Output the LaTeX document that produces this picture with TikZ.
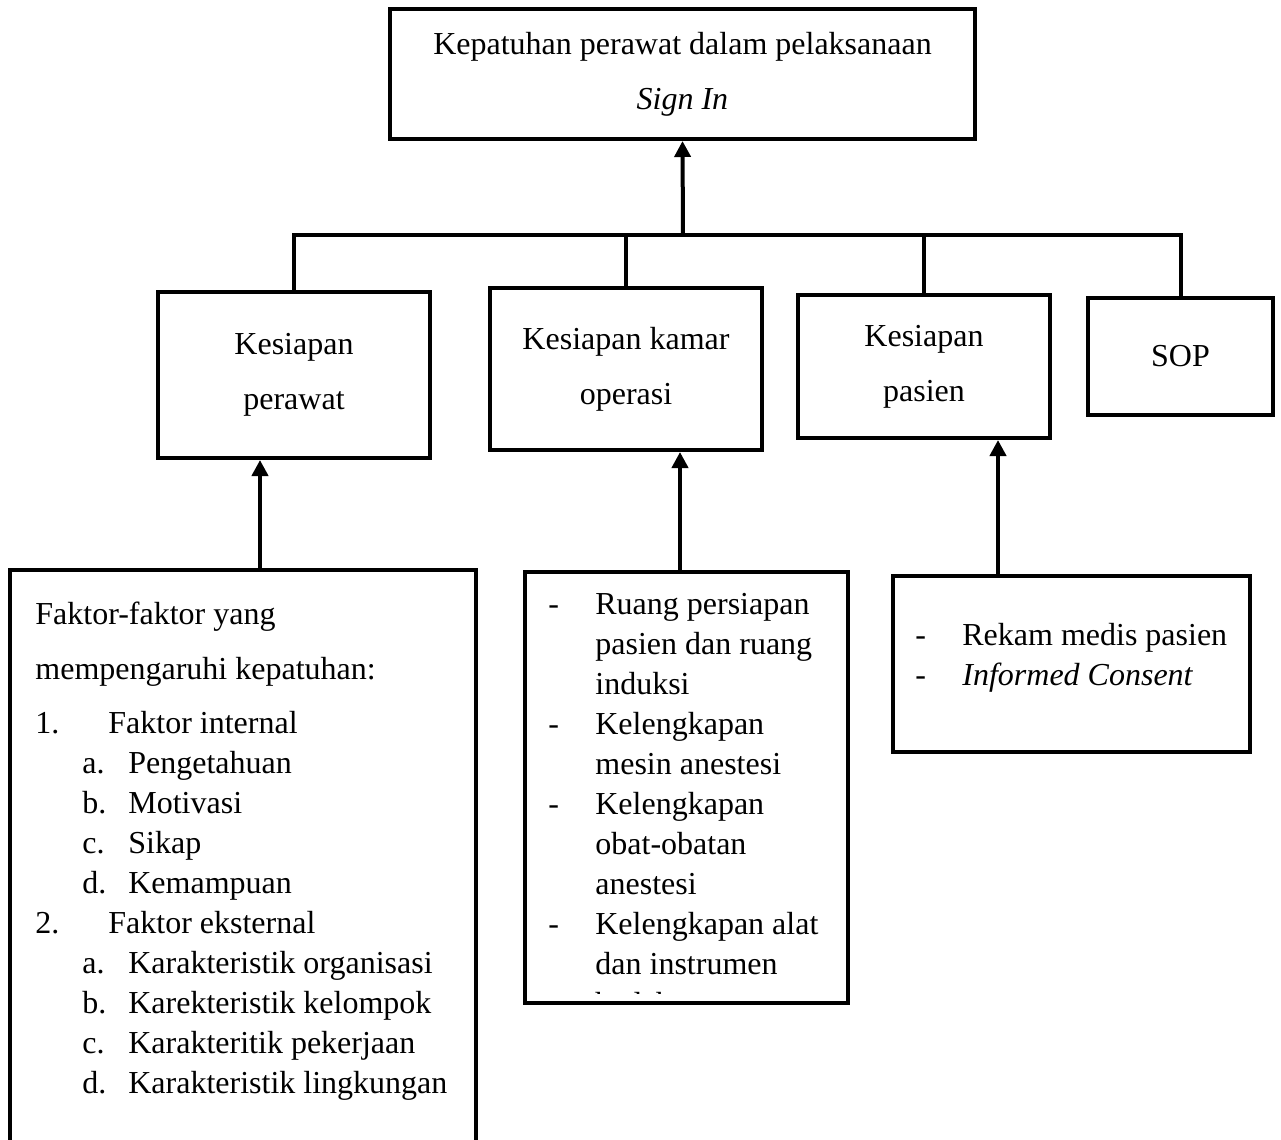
\documentclass[tikz,border=0pt]{standalone}
\usepackage{fontspec}
\setmainfont{Liberation Serif}
\usetikzlibrary{arrows.meta}
\tikzset{
  every node/.style={font=\fontsize{16}{20}\selectfont},
  box/.style={draw, line width=2pt, inner sep=0pt, align=center,
    font=\fontsize{16}{27.5}\selectfont},
  link/.style={line width=2pt},
  up/.style={line width=2pt, -{Triangle[length=8pt,width=8pt]}},
  listtext/.style={anchor=north west, inner sep=0pt, align=left},
}
\newcommand{\listnum}[2]{\makebox[36.5pt][l]{#1}#2}
\newcommand{\listsub}[2]{\hspace*{23.5pt}\makebox[23pt][l]{#1}#2}
\newcommand{\listdash}[2][-]{\makebox[23.5pt][l]{#1}#2}

\begin{document}
\begin{tikzpicture}[x=0.5pt, y=-0.5pt]
  \useasboundingbox (0,0) rectangle (1281,1140);

  \node[box, minimum width=292.5pt, minimum height=65pt] (signin) at (682.5,74)
    {Kepatuhan perawat dalam pelaksanaan\\ \textit{Sign In}};

  \node[box, minimum width=136pt, minimum height=83pt] (perawat) at (294,375)
    {Kesiapan\\ perawat};
  \node[box, minimum width=136pt, minimum height=81pt] (kamar) at (626,369)
    {Kesiapan kamar\\ operasi};
  \node[box, minimum width=126pt, minimum height=71.5pt] (pasien) at (924,366.5)
    {Kesiapan\\ pasien};
  \node[box, minimum width=92.5pt, minimum height=58.5pt] (sop) at (1180.5,356.5)
    {SOP};

  % kotak bawah
  \node[minimum width=233pt, minimum height=290pt, inner sep=0pt] (faktor) at (243,860) {};
  \draw[link] (faktor.south west) -- (faktor.north west) -- (faktor.north east) -- (faktor.south east);
  \node[listtext] (faktorisi) at (35,602) {%
    Faktor-faktor yang\\[7.5pt]
    mempengaruhi kepatuhan:\\[7pt]
    \listnum{1.}{Faktor internal}\\
    \listsub{a.}{Pengetahuan}\\
    \listsub{b.}{Motivasi}\\
    \listsub{c.}{Sikap}\\
    \listsub{d.}{Kemampuan}\\
    \listnum{2.}{Faktor eksternal}\\
    \listsub{a.}{Karakteristik organisasi}\\
    \listsub{b.}{Karekteristik kelompok}\\
    \listsub{c.}{Karakteritik pekerjaan}\\
    \listsub{d.}{Karakteristik lingkungan}};

  \node[box, minimum width=161.5pt, minimum height=215.5pt] (alat) at (686.5,787.5) {};
  \begin{scope}
    \clip ([xshift=1pt,yshift=-1pt]alat.north west) rectangle ([xshift=-1pt,yshift=6pt]alat.south east);
    \node[listtext] (alatisi) at (548,593) {%
      \listdash{Ruang persiapan}\\
      \listdash[]{pasien dan ruang}\\
      \listdash[]{induksi}\\
      \listdash{Kelengkapan}\\
      \listdash[]{mesin anestesi}\\
      \listdash{Kelengkapan}\\
      \listdash[]{obat-obatan}\\
      \listdash[]{anestesi}\\
      \listdash{Kelengkapan alat}\\
      \listdash[]{dan instrumen}\\
      \listdash[]{bedah}};
  \end{scope}

  \node[box, minimum width=178.5pt, minimum height=88pt] (dokumen) at (1071.5,664) {};
  \node[listtext] (dokumenisi) at (915,623) {%
    \listdash{Rekam medis pasien}\\
    \listdash{\textit{Informed Consent}}};

  % penghubung
  \coordinate (bus) at (683,235);
  \draw[link] (perawat.north) |- (bus) -| (sop.north);
  \draw[link] (kamar.north) -- (kamar.north |- bus);
  \draw[link] (pasien.north) -- (pasien.north |- bus);
  \draw[up] (bus) -- (signin.south);

  \coordinate (faktor in) at ([xshift=8.5pt]faktor.north);
  \coordinate (alat in) at ([xshift=-3.25pt]alat.north);
  \coordinate (dokumen in) at ([xshift=-36.75pt]dokumen.north);
  \draw[up] (faktor in) -- (faktor in |- perawat.south);
  \draw[up] (alat in) -- (alat in |- kamar.south);
  \draw[up] (dokumen in) -- (dokumen in |- pasien.south);
\end{tikzpicture}
\end{document}
